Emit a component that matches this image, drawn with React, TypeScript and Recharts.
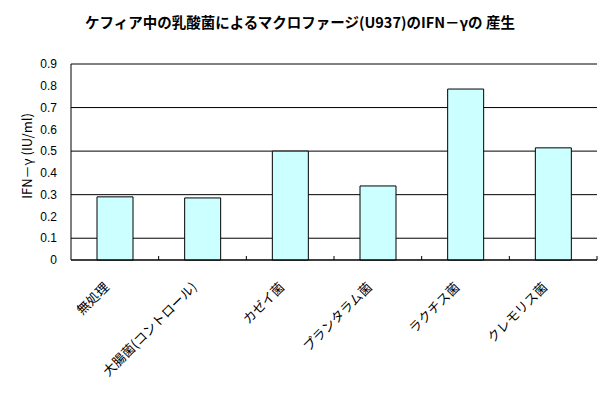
import React from "react";
import {
  BarChart,
  Bar,
  XAxis,
  YAxis,
  CartesianGrid,
} from "recharts";

const categories = [
  "無処理",
  "大腸菌(コントロール)",
  "カゼイ菌",
  "プランタラム菌",
  "ラクチス菌",
  "クレモリス菌",
];
const ifnValues = [0.29, 0.285, 0.5, 0.34, 0.785, 0.515];
const yTicks = [0, 0.1, 0.2, 0.3, 0.4, 0.5, 0.6, 0.7, 0.8, 0.9];

const title = "ケフィア中の乳酸菌によるマクロファージ(U937)のIFN－γの 産生";
const yTitle = "IFN－γ (IU/ml)";

const data = categories.map((name, i) => ({ name, value: ifnValues[i] }));

const W = 612;
const H = 399;
const M = { top: 64, right: 15, left: 0, bottom: 0 };
const Y_W = 71;
const X_H = 139;
const band = (W - M.left - M.right - Y_W) / categories.length;

const jpFont = "'Noto Sans CJK JP', sans-serif";

function XTick(props: any) {
  const { x, y, payload } = props;
  return (
    <g>
      <line x1={x + band / 2} y1={y} x2={x + band / 2} y2={y - 4} stroke="#000" />
      <text
        x={x - 5}
        y={y + 28}
        textAnchor="end"
        transform={`rotate(-45 ${x - 5} ${y + 28})`}
        fontSize={13}
        fontFamily={jpFont}
        fill="#000"
      >
        {payload.value}
      </text>
    </g>
  );
}

export default function App() {
  return (
    <div style={{ position: "absolute", left: 0, top: 0, width: W, height: H, background: "#fff" }}>
      <BarChart
        width={W}
        height={H}
        data={data}
        margin={M}
        barCategoryGap={0}
        style={{ position: "absolute", left: 0, top: 0 }}
      >
        <CartesianGrid vertical={false} stroke="#000" strokeOpacity={1} />
        <XAxis
          dataKey="name"
          height={X_H}
          interval={0}
          axisLine={{ stroke: "#000" }}
          tickLine={false}
          tickSize={0}
          tickMargin={0}
          tick={<XTick />}
        />
        <XAxis
          xAxisId="top"
          orientation="top"
          dataKey="name"
          height={0}
          tick={false}
          tickLine={false}
          axisLine={{ stroke: "#808080" }}
        />
        <YAxis
          domain={[0, 0.9]}
          ticks={yTicks}
          width={Y_W}
          axisLine={{ stroke: "#000" }}
          tickLine={false}
          tickSize={0}
          tickMargin={14}
          tick={{ fill: "#000", fontSize: 12, fontFamily: "'Liberation Sans', Arial, sans-serif" }}
        />
        <YAxis
          yAxisId="right"
          orientation="right"
          width={0}
          tick={false}
          tickLine={false}
          axisLine={{ stroke: "#808080" }}
        />
        <Bar
          dataKey="value"
          barSize={36}
          fill="#CCFFFF"
          stroke="#000"
          strokeWidth={1}
          isAnimationActive={false}
        />
      </BarChart>
      <svg width={W} height={H} style={{ position: "absolute", left: 0, top: 0, pointerEvents: "none" }}>
        <text
          x={300}
          y={28}
          textAnchor="middle"
          fontSize={14.5}
          fontWeight="bold"
          fontFamily={jpFont}
          fill="#000"
        >
          {title}
        </text>
        <text
          x={0}
          y={0}
          textAnchor="middle"
          fontSize={13}
          fontFamily={jpFont}
          fill="#000"
          transform="translate(32 156) rotate(-90)"
        >
          {yTitle}
        </text>
      </svg>
    </div>
  );
}
